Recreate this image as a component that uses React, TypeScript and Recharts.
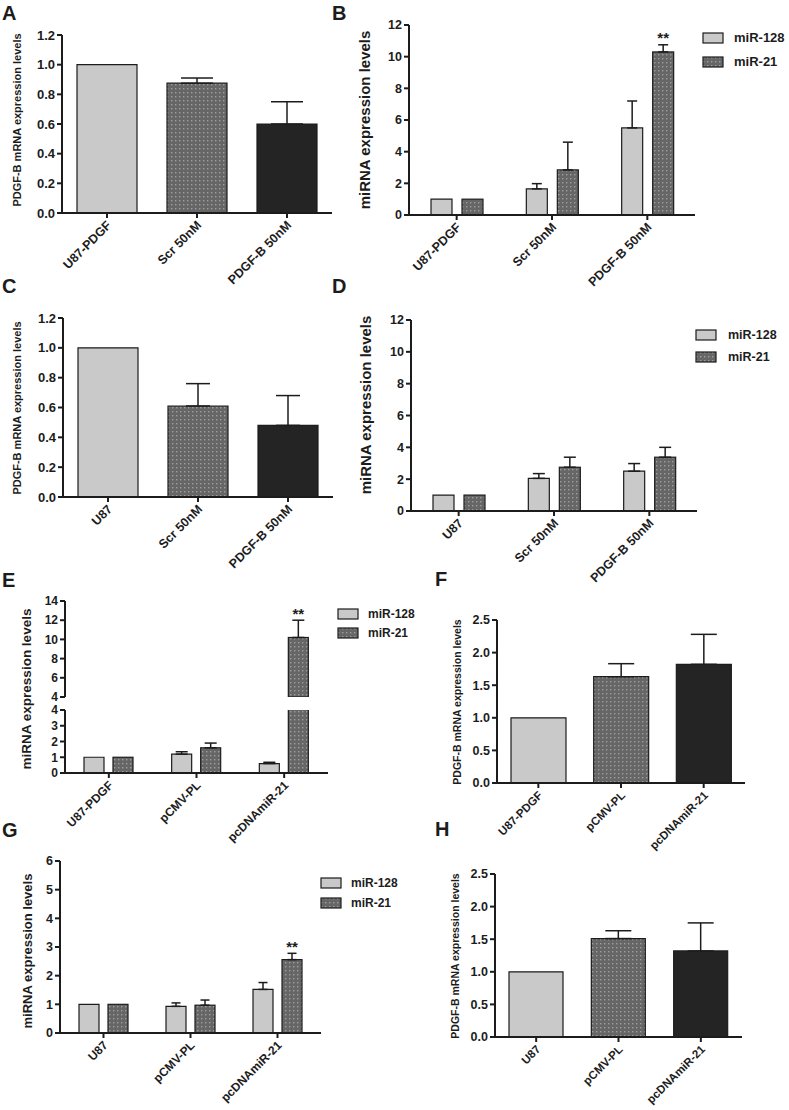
import React from 'react'
import { BarChart, Bar, XAxis, YAxis, ErrorBar, Cell } from 'recharts'

// =====================================================
// DATA
// =====================================================

const seriesNames = ['miR-128', 'miR-21']

// A - PDGF-B mRNA, U87-PDGF
const catsA = ['U87-PDGF', 'Scr 50nM', 'PDGF-B 50nM']
const pdgfA = [1.0, 0.875, 0.6]
const pdgfErrA = [0, 0.035, 0.15]

// B - miRNA, U87-PDGF
const catsB = ['U87-PDGF', 'Scr 50nM', 'PDGF-B 50nM']
const mir128B = [1.0, 1.65, 5.5]
const mir128ErrB = [0, 0.33, 1.7]
const mir21B = [1.0, 2.85, 10.3]
const mir21ErrB = [0, 1.75, 0.45]
const sigB = ['', '', '**']

// C - PDGF-B mRNA, U87
const catsC = ['U87', 'Scr 50nM', 'PDGF-B 50nM']
const pdgfC = [1.0, 0.61, 0.48]
const pdgfErrC = [0, 0.15, 0.2]

// D - miRNA, U87
const catsD = ['U87', 'Scr 50nM', 'PDGF-B 50nM']
const mir128D = [1.0, 2.05, 2.5]
const mir128ErrD = [0, 0.3, 0.48]
const mir21D = [1.0, 2.75, 3.38]
const mir21ErrD = [0, 0.63, 0.62]
const sigD = ['', '', '']

// E - miRNA, U87-PDGF transfected (broken axis)
const catsE = ['U87-PDGF', 'pCMV-PL', 'pcDNAmiR-21']
const mir128E = [1.0, 1.2, 0.6]
const mir128ErrE = [0, 0.15, 0.08]
const mir21E = [1.0, 1.6, 10.2]
const mir21ErrE = [0, 0.3, 1.8]
const sigE = ['', '', '**']
const breakE = 4

// F - PDGF-B mRNA, U87-PDGF transfected
const catsF = ['U87-PDGF', 'pCMV-PL', 'pcDNAmiR-21']
const pdgfF = [1.0, 1.63, 1.82]
const pdgfErrF = [0, 0.2, 0.46]

// G - miRNA, U87 transfected
const catsG = ['U87', 'pCMV-PL', 'pcDNAmiR-21']
const mir128G = [1.0, 0.93, 1.52]
const mir128ErrG = [0, 0.12, 0.24]
const mir21G = [1.0, 0.97, 2.56]
const mir21ErrG = [0, 0.18, 0.22]
const sigG = ['', '', '**']

// H - PDGF-B mRNA, U87 transfected
const catsH = ['U87', 'pCMV-PL', 'pcDNAmiR-21']
const pdgfH = [1.0, 1.51, 1.32]
const pdgfErrH = [0, 0.12, 0.43]

// tick values
const ticksPdgf12 = [0, 0.2, 0.4, 0.6, 0.8, 1.0, 1.2]
const ticksPdgf25 = [0, 0.5, 1.0, 1.5, 2.0, 2.5]
const ticksMir12 = [0, 2, 4, 6, 8, 10, 12]
const ticksEUpper = [4, 6, 8, 10, 12, 14]
const ticksELower = [0, 1, 2, 3, 4]
const ticksMir6 = [0, 1, 2, 3, 4, 5, 6]

// =====================================================
// STYLE
// =====================================================

const FONT = '"Liberation Sans", Arial, Helvetica, sans-serif'
const INK = '#1c1c1c'
const LIGHT = '#c9c9c9'
const MID = '#666666'
const DOT = '#9e9e9e'
const DARK = '#242424'

const axisStyle = { stroke: INK, strokeWidth: 2 }

// only the upper half of the error bar is drawn (GraphPad style)
const up = (e: number) => (e > 0 ? [0, e] : null)

function DotPattern({ id }: { id: string }) {
  return (
    <pattern id={id} width={4} height={4} patternUnits="userSpaceOnUse">
      <rect width={4} height={4} fill={MID} />
      <rect x={1} y={1} width={1.4} height={1.4} fill={DOT} />
    </pattern>
  )
}

function RotTick(props: any) {
  const { x, y, payload, fs } = props
  const ax = x + 5
  const ay = y + 6
  return (
    <text
      x={ax}
      y={ay}
      transform={`rotate(-45 ${ax} ${ay})`}
      textAnchor="end"
      fontSize={fs}
      fontWeight={700}
      fontFamily={FONT}
      fill={INK}
    >
      {payload.value}
    </text>
  )
}

interface Box { x0: number; x1: number; y0: number; y1: number }

const AX = 40
const TOP = 8
const RIGHT = 4
const XH = 95

// =====================================================
// SINGLE SERIES PANEL (PDGF-B mRNA)
// =====================================================

function PdgfPanel({ id, box, cats, vals, errs, ticks, barSize, capW, tickFs, xFs }: any) {
  const data = cats.map((c: string, i: number) => ({ name: c, v: vals[i], e: up(errs[i]) }))
  const fills = [LIGHT, `url(#${id})`, DARK]
  return (
    <div style={{ position: 'absolute', left: box.x0 - AX, top: box.y0 - TOP }}>
      <BarChart
        width={box.x1 - box.x0 + AX + RIGHT}
        height={box.y1 - box.y0 + TOP + XH}
        data={data}
        margin={{ top: TOP, right: RIGHT, left: 0, bottom: 0 }}
      >
        <defs>
          <DotPattern id={id} />
        </defs>
        <XAxis
          dataKey="name"
          height={XH}
          interval={0}
          tick={<RotTick fs={xFs} />}
          axisLine={axisStyle}
          tickLine={axisStyle}
          tickSize={5}
        />
        <YAxis
          width={AX}
          domain={[ticks[0], ticks[ticks.length - 1]]}
          ticks={ticks}
          interval={0}
          tickFormatter={(v: number) => v.toFixed(1)}
          tick={{ fontSize: tickFs, fontWeight: 700, fill: INK, fontFamily: FONT }}
          axisLine={axisStyle}
          tickLine={axisStyle}
          tickSize={5}
          tickMargin={2}
        />
        <Bar dataKey="v" barSize={barSize} stroke={INK} strokeWidth={1.2} isAnimationActive={false}>
          {data.map((_: any, i: number) => (
            <Cell key={`c-${i}`} fill={fills[i]} />
          ))}
          <ErrorBar dataKey="e" width={capW} stroke={INK} strokeWidth={1.5} direction="y" />
        </Bar>
      </BarChart>
    </div>
  )
}

// =====================================================
// TWO SERIES PANEL (miR-128 / miR-21)
// =====================================================

const sigShape = (base: number) => (p: any) => {
  const { x, y, width, height, fill, payload } = p
  const v = payload.m21
  const e = payload.e21 ? payload.e21[1] : 0
  const ppu = v - base !== 0 ? height / (v - base) : 0
  return (
    <g>
      <rect x={x} y={y} width={width} height={height} fill={fill} stroke={INK} strokeWidth={1.2} />
      {payload.sig ? (
        <text
          x={x + width / 2}
          y={y - e * ppu - 1.5}
          textAnchor="middle"
          fontSize={15}
          fontWeight={700}
          fontFamily={FONT}
          fill={INK}
        >
          {payload.sig}
        </text>
      ) : null}
    </g>
  )
}

function MirPanel({
  id, box, cats, a, aErr, b, bErr, sigs, ticks, barSize, barGap, capW, tickFs, xFs,
  hideX = false, overflow = false
}: any) {
  const data = cats.map((c: string, i: number) => ({
    name: c,
    m128: a[i],
    e128: a[i] == null ? null : up(aErr[i]),
    m21: b[i],
    e21: b[i] == null ? null : up(bErr[i]),
    sig: sigs[i]
  }))
  // when the x axis is hidden keep a little room below for the last tick label
  const xh = hideX ? 0 : XH
  const bottom = hideX ? 9 : 0
  const base = ticks[0]
  return (
    <div style={{ position: 'absolute', left: box.x0 - AX, top: box.y0 - TOP }}>
      <BarChart
        width={box.x1 - box.x0 + AX + RIGHT}
        height={box.y1 - box.y0 + TOP + xh + bottom}
        data={data}
        barGap={barGap}
        margin={{ top: TOP, right: RIGHT, left: 0, bottom }}
      >
        <defs>
          <DotPattern id={id} />
        </defs>
        <XAxis
          dataKey="name"
          hide={hideX}
          height={XH}
          interval={0}
          tick={<RotTick fs={xFs} />}
          axisLine={axisStyle}
          tickLine={axisStyle}
          tickSize={5}
        />
        <YAxis
          width={AX}
          domain={[ticks[0], ticks[ticks.length - 1]]}
          allowDataOverflow={overflow}
          ticks={ticks}
          interval={0}
          tick={{ fontSize: tickFs, fontWeight: 700, fill: INK, fontFamily: FONT }}
          axisLine={axisStyle}
          tickLine={axisStyle}
          tickSize={5}
          tickMargin={2}
        />
        <Bar dataKey="m128" barSize={barSize} fill={LIGHT} stroke={INK} strokeWidth={1.2} isAnimationActive={false}>
          <ErrorBar dataKey="e128" width={capW} stroke={INK} strokeWidth={1.5} direction="y" />
        </Bar>
        <Bar dataKey="m21" barSize={barSize} fill={`url(#${id})`} shape={sigShape(base)} isAnimationActive={false}>
          <ErrorBar dataKey="e21" width={capW} stroke={INK} strokeWidth={1.5} direction="y" />
        </Bar>
      </BarChart>
    </div>
  )
}

// =====================================================
// TEXT BITS
// =====================================================

function Letter({ ch, left, top }: { ch: string; left: number; top: number }) {
  return (
    <div style={{ position: 'absolute', left, top, fontSize: 20, fontWeight: 700, lineHeight: 1, color: INK }}>
      {ch}
    </div>
  )
}

function YLabel({ text, cx, cy, fs }: { text: string; cx: number; cy: number; fs: number }) {
  return (
    <div
      style={{
        position: 'absolute',
        left: cx,
        top: cy,
        transform: 'translate(-50%, -50%) rotate(-90deg)',
        whiteSpace: 'nowrap',
        fontSize: fs,
        fontWeight: 700,
        lineHeight: 1,
        color: INK
      }}
    >
      {text}
    </div>
  )
}

function SeriesLegend({ id, left, top, rowGap, fs, textGap }: any) {
  const fills = [LIGHT, `url(#${id})`]
  return (
    <div style={{ position: 'absolute', left, top, fontSize: fs, fontWeight: 700, color: INK }}>
      {seriesNames.map((name, i) => (
        <div
          key={name}
          style={{ position: 'absolute', left: 0, top: i * rowGap, display: 'flex', alignItems: 'center', whiteSpace: 'nowrap' }}
        >
          <svg width={22} height={12} style={{ display: 'block' }}>
            <defs>
              <DotPattern id={id} />
            </defs>
            <rect x={1} y={1} width={20} height={10} fill={fills[i]} stroke={INK} strokeWidth={1.2} />
          </svg>
          <span style={{ marginLeft: textGap, lineHeight: '12px' }}>{name}</span>
        </div>
      ))}
    </div>
  )
}

// =====================================================
// APP
// =====================================================

const boxA: Box = { x0: 62, x1: 332, y0: 35, y1: 213 }
const boxB: Box = { x0: 409, x1: 695, y0: 25, y1: 215 }
const boxC: Box = { x0: 63, x1: 333, y0: 318, y1: 497 }
const boxD: Box = { x0: 411, x1: 697, y0: 320, y1: 511 }
const boxEUp: Box = { x0: 65, x1: 328, y0: 601, y1: 697 }
const boxELow: Box = { x0: 65, x1: 328, y0: 710, y1: 773 }
const boxF: Box = { x0: 497, x1: 745, y0: 620, y1: 783 }
const boxG: Box = { x0: 60, x1: 321, y0: 861, y1: 1033 }
const boxH: Box = { x0: 495, x1: 742, y0: 874, y1: 1037 }

export default function App() {
  // broken axis in E: each half only shows the part of the data on its side of the break
  const aboveBreak = (vals: number[]) => vals.map(v => (v > breakE ? v : null))
  const belowErr = (vals: number[], errs: number[]) => errs.map((e, i) => (vals[i] > breakE ? 0 : e))

  return (
    <div
      style={{
        position: 'absolute',
        left: 0,
        top: 0,
        width: 789,
        height: 1110,
        background: '#ffffff',
        fontFamily: FONT,
        overflow: 'hidden'
      }}
    >
      <Letter ch="A" left={2} top={3} />
      <Letter ch="B" left={332} top={3} />
      <Letter ch="C" left={2} top={276} />
      <Letter ch="D" left={332} top={276} />
      <Letter ch="E" left={2} top={570} />
      <Letter ch="F" left={435} top={569} />
      <Letter ch="G" left={2} top={820} />
      <Letter ch="H" left={435} top={819} />

      <YLabel text="PDGF-B mRNA expression levels" cx={17} cy={120} fs={11} />
      <YLabel text="miRNA expression levels" cx={364} cy={120} fs={15} />
      <YLabel text="PDGF-B mRNA expression levels" cx={17} cy={408} fs={11} />
      <YLabel text="miRNA expression levels" cx={365} cy={405} fs={15} />
      <YLabel text="miRNA expression levels" cx={27} cy={689} fs={13.5} />
      <YLabel text="PDGF-B mRNA expression levels" cx={457} cy={702} fs={10.5} />
      <YLabel text="miRNA expression levels" cx={27} cy={951} fs={13} />
      <YLabel text="PDGF-B mRNA expression levels" cx={455} cy={956} fs={10.5} />

      <PdgfPanel id="dotA" box={boxA} cats={catsA} vals={pdgfA} errs={pdgfErrA} ticks={ticksPdgf12}
        barSize={60} capW={16} tickFs={13} xFs={12.5} />
      <MirPanel id="dotB" box={boxB} cats={catsB} a={mir128B} aErr={mir128ErrB} b={mir21B} bErr={mir21ErrB}
        sigs={sigB} ticks={ticksMir12} barSize={21} barGap={10} capW={5} tickFs={12.5} xFs={12.5} />
      <SeriesLegend id="dotLB" left={702} top={32} rowGap={24} fs={13} textGap={10} />

      <PdgfPanel id="dotC" box={boxC} cats={catsC} vals={pdgfC} errs={pdgfErrC} ticks={ticksPdgf12}
        barSize={60} capW={12} tickFs={13} xFs={12.5} />
      <MirPanel id="dotD" box={boxD} cats={catsD} a={mir128D} aErr={mir128ErrD} b={mir21D} bErr={mir21ErrD}
        sigs={sigD} ticks={ticksMir12} barSize={21} barGap={10} capW={6} tickFs={12.5} xFs={12.5} />
      <SeriesLegend id="dotLD" left={695} top={329} rowGap={22} fs={12.5} textGap={11} />

      <MirPanel id="dotEU" box={boxEUp} cats={catsE}
        a={aboveBreak(mir128E)} aErr={mir128ErrE} b={aboveBreak(mir21E)} bErr={mir21ErrE}
        sigs={sigE} ticks={ticksEUpper} barSize={20} barGap={9} capW={6} tickFs={12} xFs={12}
        hideX overflow />
      <MirPanel id="dotEL" box={boxELow} cats={catsE}
        a={mir128E} aErr={belowErr(mir128E, mir128ErrE)} b={mir21E} bErr={belowErr(mir21E, mir21ErrE)}
        sigs={catsE.map(() => '')} ticks={ticksELower} barSize={20} barGap={9} capW={6} tickFs={12} xFs={12}
        overflow />
      <SeriesLegend id="dotLE" left={337} top={608} rowGap={19} fs={12} textGap={9} />

      <PdgfPanel id="dotF" box={boxF} cats={catsF} vals={pdgfF} errs={pdgfErrF} ticks={ticksPdgf25}
        barSize={55} capW={13} tickFs={12.5} xFs={11.5} />

      <MirPanel id="dotG" box={boxG} cats={catsG} a={mir128G} aErr={mir128ErrG} b={mir21G} bErr={mir21ErrG}
        sigs={sigG} ticks={ticksMir6} barSize={20} barGap={9} capW={4.5} tickFs={12.5} xFs={12}
        />
      <SeriesLegend id="dotLG" left={320} top={877} rowGap={20} fs={12} textGap={9} />

      <PdgfPanel id="dotH" box={boxH} cats={catsH} vals={pdgfH} errs={pdgfErrH} ticks={ticksPdgf25}
        barSize={54} capW={13} tickFs={12.5} xFs={11.5} />
    </div>
  )
}
